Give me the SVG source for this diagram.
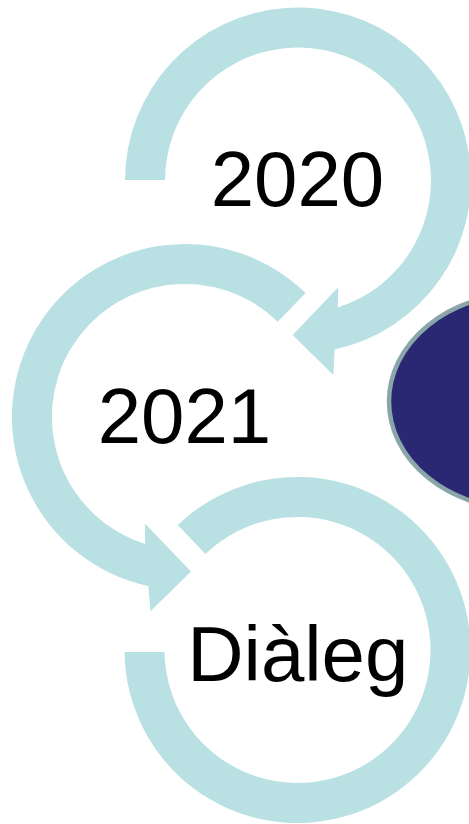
<svg xmlns="http://www.w3.org/2000/svg" width="469" height="824" viewBox="0 0 469 824">
  <style>
    .ring { fill: #B9E0E3; stroke: none; }
    .label { font-family: "Liberation Sans", Arial, sans-serif; font-size: 78px; fill: #000000; text-anchor: middle; }
    .oval { fill: #2A2873; stroke: #8BA6A9; stroke-width: 4.5; }
  </style>
  <rect x="0" y="0" width="469" height="824" fill="#FFFFFF"/>
  <g id="connectors"></g>
  <g id="node-oval">
    <ellipse class="oval" cx="523" cy="401.5" rx="134" ry="108"/>
  </g>
  <g id="node-2020">
    <path class="ring" d="M125,180 A173,173 0 1 1 334.6,349.6 L333.3,375 L292.7,335 L338.3,287.3 L337.8,307.4 A133,133 0 1 0 165,180 Z"/>
    <text class="label" x="297.5" y="206">2020</text>
  </g>
  <g id="node-2021">
    <path class="ring" d="M305.6,293 A173,173 0 1 0 148.4,586.1 L150.5,611.3 L191,571.5 L144.9,523.6 L145.2,543.9 A133,133 0 1 1 277.7,321.7 Z"/>
    <text class="label" x="184.5" y="443">2021</text>
  </g>
  <g id="node-dialeg">
    <path class="ring" d="M177.8,525.1 A173,173 0 1 1 124.5,652 L164.5,652 A133,133 0 1 0 205.4,554 Z"/>
    <text class="label" x="297.8" y="681">Diàleg</text>
  </g>
</svg>
